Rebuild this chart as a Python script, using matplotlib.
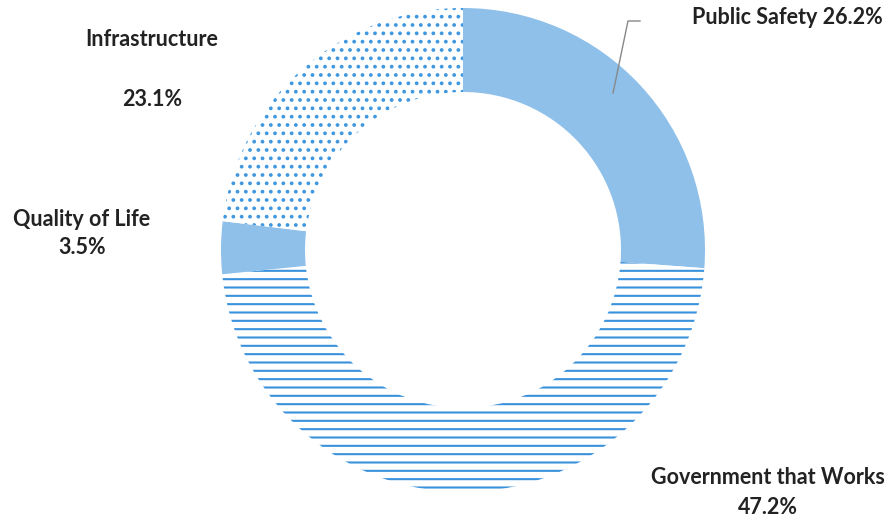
import numpy as np
import matplotlib.pyplot as plt

plt.rcParams['font.family'] = ['Lato', 'DejaVu Sans']
plt.rcParams['hatch.linewidth'] = 1.5

categories = ['Public Safety', 'Government that Works', 'Quality of Life', 'Infrastructure']
shares = [26.2, 47.2, 3.5, 23.1]

face = ['#8fc0ea', 'white', '#8fc0ea', 'white']
hatch_col = ['#8fc0ea', '#3a92dc', '#8fc0ea', '#3f97e0']
hatches = [None, '--', None, '..']

fig = plt.figure(figsize=(8.93, 5.18), dpi=100)
ax = fig.add_axes([0, 0, 1, 1])

wedges, _ = ax.pie(shares, startangle=90, counterclock=False, center=(463, 268),
                   radius=242, wedgeprops=dict(width=84, linewidth=0), frame=True)
for w, fc, hc, h in zip(wedges, face, hatch_col, hatches):
    w.set_facecolor(fc)
    w.set_edgecolor(hc)
    w.set_linewidth(0)
    if h:
        w.set_hatch(h)
ax.set_xlim(0, 893)
ax.set_ylim(0, 518)
ax.set_aspect('equal')
ax.axis('off')

tc = '#222222'
fs = 15.5
ax.text(692, 500, f'{categories[0]} {shares[0]}%', ha='left', va='center',
        fontsize=fs, fontweight='bold', color=tc)
ax.plot([613, 628, 640], [425, 497, 497], color='#888888', lw=1)
ax.text(152, 478, categories[3], ha='center', va='center', fontsize=fs, fontweight='bold', color=tc)
ax.text(152, 418, f'{shares[3]}%', ha='center', va='center', fontsize=fs, fontweight='bold', color=tc)
ax.text(82, 298, categories[2], ha='center', va='center', fontsize=fs, fontweight='bold', color=tc)
ax.text(82, 271, f'{shares[2]}%', ha='center', va='center', fontsize=fs, fontweight='bold', color=tc)
ax.text(768, 40, categories[1], ha='center', va='center', fontsize=fs, fontweight='bold', color=tc)
ax.text(768, 10, f'{shares[1]}%', ha='center', va='center', fontsize=fs, fontweight='bold', color=tc)

fig.savefig('out.png', dpi=100)
